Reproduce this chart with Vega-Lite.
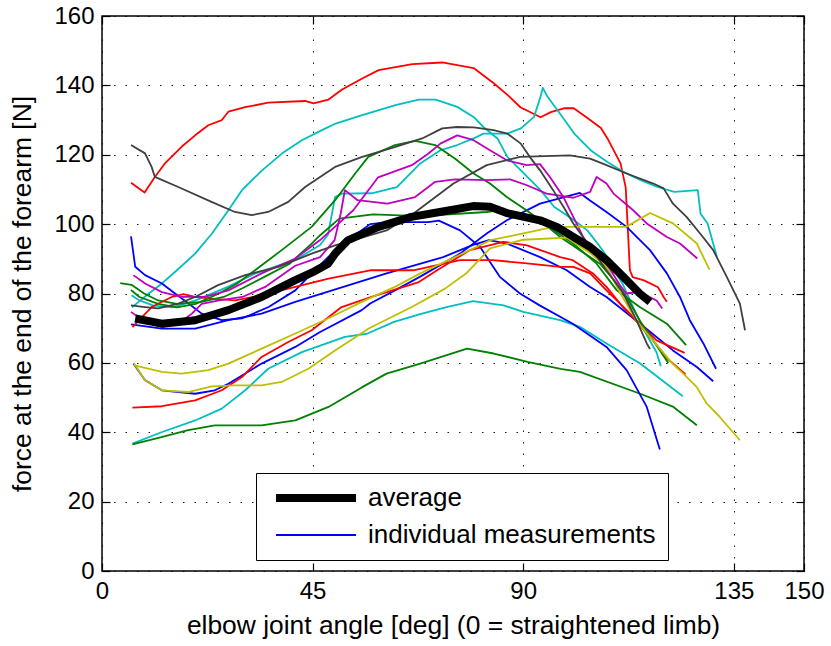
{
"$schema": "https://vega.github.io/schema/vega-lite/v6.json",
"width": 702, "height": 555,
"autosize": {"type": "none"},
"padding": {"left": 102, "top": 16, "right": 27, "bottom": 75},
"background": "#ffffff",
"config": {
  "font": "Liberation Sans",
  "view": {"stroke": "#000000", "strokeWidth": 1.5},
  "axis": {"labelFont": "Liberation Sans", "titleFont": "Liberation Sans", "labelColor": "#000000", "titleColor": "#000000", "titleFontWeight": "normal", "labelFontSize": 24, "titleFontSize": 26.4, "domain": false, "tickColor": "#000000", "tickWidth": 1.2, "tickSize": -8, "gridColor": "#000000", "gridDash": [1.5, 10], "gridWidth": 1, "gridOpacity": 0.9, "labelOverlap": false, "labelFlush": false},
  "legend": {"orient": "none", "legendX": 154, "legendY": 457, "padding": 12, "strokeColor": "#000000", "fillColor": "#ffffff", "labelFont": "Liberation Sans", "labelFontSize": 26, "labelColor": "#000000", "symbolType": "M-0.5,0H7.5", "symbolSize": 400, "labelOffset": 74, "rowPadding": 8, "labelLimit": 400}
},
"datasets": {
"ind": [
{"s":"r1","x":6.2,"y":111.9},{"s":"r1","x":9.1,"y":109.1},{"s":"r1","x":11.3,"y":113.6},{"s":"r1","x":13.5,"y":117.6},{"s":"r1","x":17,"y":122.3},{"s":"r1","x":19.9,"y":125.6},{"s":"r1","x":22.7,"y":128.5},{"s":"r1","x":25.6,"y":130},{"s":"r1","x":27,"y":132.4},{"s":"r1","x":30.6,"y":133.7},{"s":"r1","x":35.5,"y":135},{"s":"r1","x":43.4,"y":135.5},{"s":"r1","x":45.2,"y":134.8},{"s":"r1","x":48.4,"y":135.9},{"s":"r1","x":51.3,"y":138.8},{"s":"r1","x":55.6,"y":142},{"s":"r1","x":59.1,"y":144.4},{"s":"r1","x":66.3,"y":146.1},{"s":"r1","x":72.7,"y":146.6},{"s":"r1","x":79.4,"y":145},{"s":"r1","x":83.7,"y":140.6},{"s":"r1","x":86.7,"y":137.2},{"s":"r1","x":89.4,"y":133.7},{"s":"r1","x":93.7,"y":130.8},{"s":"r1","x":95.9,"y":132.3},{"s":"r1","x":98.7,"y":133.4},{"s":"r1","x":100.8,"y":133.4},{"s":"r1","x":103.8,"y":130.5},{"s":"r1","x":106.6,"y":127.7},{"s":"r1","x":108,"y":124.7},{"s":"r1","x":110.8,"y":117.5},{"s":"r1","x":111.9,"y":110.6},{"s":"r1","x":112.8,"y":86.7},{"s":"r1","x":113.4,"y":84.7},{"s":"r1","x":115.8,"y":83.8},{"s":"r1","x":118.8,"y":81.8},{"s":"r1","x":120,"y":79},{"s":"r1","x":120.7,"y":77.6},
{"s":"c1","x":6.4,"y":76},{"s":"c1","x":10,"y":80},{"s":"c1","x":12.8,"y":82.9},{"s":"c1","x":16,"y":86.7},{"s":"c1","x":19.9,"y":91.5},{"s":"c1","x":23.5,"y":97.3},{"s":"c1","x":27,"y":104},{"s":"c1","x":29.9,"y":109.8},{"s":"c1","x":34.2,"y":115.5},{"s":"c1","x":38.5,"y":120.4},{"s":"c1","x":42.7,"y":124.2},{"s":"c1","x":47,"y":127.1},{"s":"c1","x":49.9,"y":129},{"s":"c1","x":55.6,"y":131.4},{"s":"c1","x":62.7,"y":134.3},{"s":"c1","x":67.7,"y":135.9},{"s":"c1","x":71.3,"y":135.9},{"s":"c1","x":75.9,"y":133.8},{"s":"c1","x":79.4,"y":130.9},{"s":"c1","x":81.5,"y":128},{"s":"c1","x":84.5,"y":124.7},{"s":"c1","x":86.6,"y":119.4},{"s":"c1","x":89.5,"y":115.5},{"s":"c1","x":93.7,"y":109.8},{"s":"c1","x":96.6,"y":105},{"s":"c1","x":100.9,"y":101.1},{"s":"c1","x":103.7,"y":98.2},{"s":"c1","x":105.9,"y":94.4},{"s":"c1","x":108,"y":90.5},{"s":"c1","x":109.4,"y":86.7},{"s":"c1","x":111.2,"y":82.9},{"s":"c1","x":113.5,"y":76},{"s":"c1","x":116,"y":69},{"s":"c1","x":118.5,"y":63},{"s":"c1","x":119.4,"y":59},
{"s":"c2","x":6.3,"y":79.5},{"s":"c2","x":8,"y":78},{"s":"c2","x":11,"y":76.5},{"s":"c2","x":15,"y":76},{"s":"c2","x":20,"y":78},{"s":"c2","x":27,"y":82},{"s":"c2","x":32.8,"y":85.8},{"s":"c2","x":41.2,"y":89.6},{"s":"c2","x":46.6,"y":94},{"s":"c2","x":48.3,"y":97},{"s":"c2","x":49.8,"y":107.8},{"s":"c2","x":51.3,"y":108.8},{"s":"c2","x":57.6,"y":108.9},{"s":"c2","x":63,"y":110.7},{"s":"c2","x":68,"y":117.5},{"s":"c2","x":72.3,"y":121.3},{"s":"c2","x":75.9,"y":122.8},{"s":"c2","x":79.4,"y":124.7},{"s":"c2","x":81.5,"y":126.1},{"s":"c2","x":86.6,"y":126.1},{"s":"c2","x":89.5,"y":127.6},{"s":"c2","x":92.3,"y":130.9},{"s":"c2","x":93.7,"y":136.7},{"s":"c2","x":94.2,"y":139.3},{"s":"c2","x":95.2,"y":136.7},{"s":"c2","x":97.3,"y":132.9},{"s":"c2","x":100.9,"y":126.1},{"s":"c2","x":104.4,"y":121.3},{"s":"c2","x":108,"y":117.9},{"s":"c2","x":111.5,"y":115},{"s":"c2","x":115.1,"y":112.7},{"s":"c2","x":118.7,"y":110.7},{"s":"c2","x":122.3,"y":109.3},{"s":"c2","x":127.3,"y":109.8},{"s":"c2","x":127.9,"y":103},{"s":"c2","x":129.4,"y":100.2},{"s":"c2","x":131.4,"y":90.5},
{"s":"c3","x":6.5,"y":36.7},{"s":"c3","x":12.7,"y":40},{"s":"c3","x":19.9,"y":43.4},{"s":"c3","x":25.6,"y":46.8},{"s":"c3","x":30.6,"y":52.1},{"s":"c3","x":35.5,"y":58.3},{"s":"c3","x":42.7,"y":63.1},{"s":"c3","x":51.9,"y":67.5},{"s":"c3","x":56.6,"y":68.4},{"s":"c3","x":62.4,"y":71.8},{"s":"c3","x":67.8,"y":74},{"s":"c3","x":73.6,"y":76.1},{"s":"c3","x":79.3,"y":77.8},{"s":"c3","x":85.8,"y":76.6},{"s":"c3","x":90,"y":74.7},{"s":"c3","x":97.9,"y":72.3},{"s":"c3","x":102.1,"y":70.4},{"s":"c3","x":107.8,"y":65.6},{"s":"c3","x":115,"y":59.8},{"s":"c3","x":124.1,"y":50.4},
{"s":"g1","x":6.5,"y":36.5},{"s":"g1","x":12.7,"y":38.6},{"s":"g1","x":18.4,"y":40.6},{"s":"g1","x":24.1,"y":42},{"s":"g1","x":34.1,"y":42},{"s":"g1","x":41.3,"y":43.4},{"s":"g1","x":48.4,"y":47.3},{"s":"g1","x":55.6,"y":53},{"s":"g1","x":60.8,"y":56.9},{"s":"g1","x":68,"y":59.8},{"s":"g1","x":78,"y":64.1},{"s":"g1","x":83.7,"y":62.7},{"s":"g1","x":90.9,"y":60.3},{"s":"g1","x":98,"y":58.3},{"s":"g1","x":102.1,"y":57.4},{"s":"g1","x":115,"y":51.1},{"s":"g1","x":122.1,"y":47.3},{"s":"g1","x":127.1,"y":42},
{"s":"b1","x":6.2,"y":96.5},{"s":"b1","x":7.1,"y":87.7},{"s":"b1","x":9.2,"y":85.3},{"s":"b1","x":12.8,"y":82.9},{"s":"b1","x":15.6,"y":80},{"s":"b1","x":18.5,"y":77.1},{"s":"b1","x":21.3,"y":74.2},{"s":"b1","x":25.6,"y":72.3},{"s":"b1","x":29.9,"y":72.8},{"s":"b1","x":35.6,"y":76.1},{"s":"b1","x":41.3,"y":80.9},{"s":"b1","x":44.1,"y":84.8},{"s":"b1","x":48.3,"y":90.5},{"s":"b1","x":52.6,"y":95.4},{"s":"b1","x":57.3,"y":100},{"s":"b1","x":61.1,"y":100.6},{"s":"b1","x":69.7,"y":100.6},{"s":"b1","x":72,"y":101},{"s":"b1","x":76.5,"y":98.2},{"s":"b1","x":80.8,"y":93.4},{"s":"b1","x":85,"y":84.8},{"s":"b1","x":89.3,"y":80},{"s":"b1","x":93.6,"y":76.5},{"s":"b1","x":100.6,"y":71.3},{"s":"b1","x":107.8,"y":64.6},{"s":"b1","x":112.1,"y":57.9},{"s":"b1","x":116.4,"y":47.3},{"s":"b1","x":119.2,"y":35},
{"s":"b2","x":6.7,"y":59.8},{"s":"b2","x":9.2,"y":55},{"s":"b2","x":12.8,"y":52.1},{"s":"b2","x":19.9,"y":51.1},{"s":"b2","x":24.1,"y":52.1},{"s":"b2","x":27,"y":54},{"s":"b2","x":34.1,"y":59.8},{"s":"b2","x":41.3,"y":64.6},{"s":"b2","x":46.6,"y":68.9},{"s":"b2","x":55.5,"y":75.2},{"s":"b2","x":57.3,"y":77.1},{"s":"b2","x":62.6,"y":80.9},{"s":"b2","x":67.9,"y":84.8},{"s":"b2","x":76.5,"y":91.5},{"s":"b2","x":82.2,"y":97.3},{"s":"b2","x":86.5,"y":101.1},{"s":"b2","x":93.6,"y":105.9},{"s":"b2","x":102.1,"y":109},{"s":"b2","x":104.2,"y":106.9},{"s":"b2","x":107.8,"y":103.5},{"s":"b2","x":112.1,"y":99.2},{"s":"b2","x":117.1,"y":92.5},{"s":"b2","x":120.7,"y":85.8},{"s":"b2","x":123.5,"y":79},{"s":"b2","x":125.6,"y":72.3},{"s":"b2","x":128.5,"y":65.6},{"s":"b2","x":131.2,"y":58.3},
{"s":"b3","x":6.2,"y":71.1},{"s":"b3","x":12.8,"y":69.9},{"s":"b3","x":19.9,"y":69.9},{"s":"b3","x":27,"y":72.3},{"s":"b3","x":34.1,"y":74.2},{"s":"b3","x":41.3,"y":77.6},{"s":"b3","x":46.6,"y":79.8},{"s":"b3","x":60.8,"y":85.8},{"s":"b3","x":72.9,"y":90.5},{"s":"b3","x":79.3,"y":94},{"s":"b3","x":82.7,"y":95.4},{"s":"b3","x":86.5,"y":94.4},{"s":"b3","x":93.6,"y":90.5},{"s":"b3","x":99.3,"y":86.7},{"s":"b3","x":104.3,"y":81.9},{"s":"b3","x":107.8,"y":79},{"s":"b3","x":115,"y":71.3},{"s":"b3","x":122,"y":63.6},{"s":"b3","x":127.1,"y":58.8},{"s":"b3","x":130.6,"y":54.7},
{"s":"r2","x":6.5,"y":70.3},{"s":"r2","x":10.6,"y":76.1},{"s":"r2","x":14.9,"y":79},{"s":"r2","x":17.4,"y":79.8},{"s":"r2","x":19.9,"y":79},{"s":"r2","x":23.4,"y":78.5},{"s":"r2","x":28.4,"y":78},{"s":"r2","x":34.1,"y":79.5},{"s":"r2","x":41.3,"y":81.9},{"s":"r2","x":48.4,"y":84.3},{"s":"r2","x":57.3,"y":86.7},{"s":"r2","x":66.5,"y":86.7},{"s":"r2","x":76.5,"y":89.6},{"s":"r2","x":83.5,"y":89.6},{"s":"r2","x":90.8,"y":88.7},{"s":"r2","x":97.9,"y":87.7},{"s":"r2","x":100.7,"y":87.7},{"s":"r2","x":104.3,"y":85.8},{"s":"r2","x":107.8,"y":80.9},{"s":"r2","x":112.1,"y":75.2},{"s":"r2","x":117.1,"y":67.5},{"s":"r2","x":121,"y":61},{"s":"r2","x":124.7,"y":56.7},
{"s":"r3","x":6.5,"y":47.1},{"s":"r3","x":12.8,"y":47.5},{"s":"r3","x":19.9,"y":49.2},{"s":"r3","x":25.6,"y":52.1},{"s":"r3","x":29.9,"y":55.9},{"s":"r3","x":34.1,"y":61.7},{"s":"r3","x":39.8,"y":66},{"s":"r3","x":44.8,"y":69.4},{"s":"r3","x":51.2,"y":76.1},{"s":"r3","x":57.6,"y":79},{"s":"r3","x":67.7,"y":83.3},{"s":"r3","x":71.6,"y":86.7},{"s":"r3","x":78.6,"y":92.5},{"s":"r3","x":85.8,"y":94.9},{"s":"r3","x":90.8,"y":93.9},{"s":"r3","x":97.9,"y":90.5},{"s":"r3","x":100.6,"y":89.6},{"s":"r3","x":104.9,"y":85.8},{"s":"r3","x":107.8,"y":81.9},{"s":"r3","x":111.3,"y":76.1},{"s":"r3","x":114.9,"y":71.4},{"s":"r3","x":118.5,"y":66.5},{"s":"r3","x":124.5,"y":62.9},
{"s":"g2","x":6.2,"y":81},{"s":"g2","x":8,"y":79},{"s":"g2","x":12,"y":77},{"s":"g2","x":16,"y":76},{"s":"g2","x":20,"y":77},{"s":"g2","x":25,"y":80},{"s":"g2","x":29,"y":83},{"s":"g2","x":32.7,"y":86.7},{"s":"g2","x":38.4,"y":92.5},{"s":"g2","x":44.8,"y":99.2},{"s":"g2","x":49.8,"y":106.9},{"s":"g2","x":54.1,"y":114.6},{"s":"g2","x":56.9,"y":119.4},{"s":"g2","x":62.6,"y":122.8},{"s":"g2","x":66.9,"y":124},{"s":"g2","x":71.2,"y":122.8},{"s":"g2","x":75.4,"y":118.9},{"s":"g2","x":79.4,"y":114.6},{"s":"g2","x":82.9,"y":111.7},{"s":"g2","x":86.5,"y":107.8},{"s":"g2","x":90.7,"y":104},{"s":"g2","x":93.6,"y":101.1},{"s":"g2","x":97.9,"y":96.3},{"s":"g2","x":102.1,"y":92.5},{"s":"g2","x":106.4,"y":88.6},{"s":"g2","x":110,"y":82.9},{"s":"g2","x":112.1,"y":79},{"s":"g2","x":115,"y":72},{"s":"g2","x":118,"y":66},{"s":"g2","x":121,"y":60},
{"s":"g3","x":3.9,"y":83},{"s":"g3","x":6.3,"y":82.5},{"s":"g3","x":9,"y":80},{"s":"g3","x":12,"y":78},{"s":"g3","x":16,"y":77},{"s":"g3","x":21,"y":77.5},{"s":"g3","x":26,"y":79},{"s":"g3","x":30,"y":81.5},{"s":"g3","x":35,"y":85},{"s":"g3","x":40,"y":88.5},{"s":"g3","x":44.8,"y":94.4},{"s":"g3","x":46.6,"y":96.8},{"s":"g3","x":50.7,"y":101.6},{"s":"g3","x":57.9,"y":102.8},{"s":"g3","x":68.1,"y":102.3},{"s":"g3","x":82.2,"y":103.5},{"s":"g3","x":83.9,"y":103.8},{"s":"g3","x":95,"y":99.7},{"s":"g3","x":100.6,"y":94.5},{"s":"g3","x":105.7,"y":88.6},{"s":"g3","x":110,"y":80.9},{"s":"g3","x":114.9,"y":76.1},{"s":"g3","x":120.7,"y":71.3},{"s":"g3","x":124.8,"y":65.1},
{"s":"m1","x":6.7,"y":85.3},{"s":"m1","x":9.2,"y":82.9},{"s":"m1","x":12.8,"y":80.4},{"s":"m1","x":17,"y":79},{"s":"m1","x":22,"y":79},{"s":"m1","x":27,"y":80.9},{"s":"m1","x":34.1,"y":85.8},{"s":"m1","x":41.3,"y":90.1},{"s":"m1","x":46.6,"y":95.4},{"s":"m1","x":53.7,"y":104},{"s":"m1","x":59,"y":113.5},{"s":"m1","x":66.2,"y":117},{"s":"m1","x":69.7,"y":120.3},{"s":"m1","x":72.3,"y":123.2},{"s":"m1","x":75.9,"y":125.6},{"s":"m1","x":79.4,"y":124.2},{"s":"m1","x":82.9,"y":121.3},{"s":"m1","x":86.5,"y":118.4},{"s":"m1","x":90.7,"y":117},{"s":"m1","x":93.6,"y":117.3},{"s":"m1","x":95.7,"y":113.6},{"s":"m1","x":98.6,"y":107.8},{"s":"m1","x":100.7,"y":102.1},{"s":"m1","x":102.8,"y":96.3},{"s":"m1","x":105.7,"y":90.5},{"s":"m1","x":107.8,"y":88.6},{"s":"m1","x":110.7,"y":82.4},{"s":"m1","x":112,"y":80},{"s":"m1","x":115,"y":80.5},{"s":"m1","x":117,"y":79},{"s":"m1","x":118.5,"y":78},{"s":"m1","x":119.7,"y":75.7},
{"s":"m2","x":6.2,"y":74.7},{"s":"m2","x":9.2,"y":71.8},{"s":"m2","x":12.8,"y":70.3},{"s":"m2","x":16.3,"y":71.3},{"s":"m2","x":19.2,"y":74.2},{"s":"m2","x":21.3,"y":77},{"s":"m2","x":25,"y":78},{"s":"m2","x":30,"y":79},{"s":"m2","x":35,"y":82},{"s":"m2","x":41.3,"y":88},{"s":"m2","x":46.6,"y":90.5},{"s":"m2","x":49.7,"y":95.4},{"s":"m2","x":51,"y":103},{"s":"m2","x":51.9,"y":109.8},{"s":"m2","x":54.6,"y":106.9},{"s":"m2","x":61,"y":105.9},{"s":"m2","x":66.9,"y":107.8},{"s":"m2","x":71.2,"y":112.2},{"s":"m2","x":75.4,"y":112.9},{"s":"m2","x":82.2,"y":112.7},{"s":"m2","x":87.2,"y":112.9},{"s":"m2","x":90.8,"y":111.2},{"s":"m2","x":95,"y":108.8},{"s":"m2","x":100.7,"y":107.6},{"s":"m2","x":104.3,"y":109.3},{"s":"m2","x":105.7,"y":113.6},{"s":"m2","x":107.8,"y":111.7},{"s":"m2","x":109.3,"y":108.8},{"s":"m2","x":113.5,"y":104},{"s":"m2","x":116.4,"y":100.2},{"s":"m2","x":120.7,"y":96.3},{"s":"m2","x":123.5,"y":94.4},{"s":"m2","x":127.2,"y":90.1},
{"s":"y1","x":6.9,"y":59.3},{"s":"y1","x":12.8,"y":57.4},{"s":"y1","x":17,"y":56.9},{"s":"y1","x":22.7,"y":57.9},{"s":"y1","x":27,"y":59.8},{"s":"y1","x":34.1,"y":64.1},{"s":"y1","x":41.2,"y":68.4},{"s":"y1","x":48.3,"y":72.8},{"s":"y1","x":55.5,"y":77.6},{"s":"y1","x":62.6,"y":81.9},{"s":"y1","x":68,"y":85.8},{"s":"y1","x":78.6,"y":92.5},{"s":"y1","x":83,"y":95.4},{"s":"y1","x":90,"y":97.3},{"s":"y1","x":96.5,"y":99.2},{"s":"y1","x":112,"y":99.2},{"s":"y1","x":117.1,"y":103.2},{"s":"y1","x":122,"y":100.2},{"s":"y1","x":127.1,"y":94.4},{"s":"y1","x":129.8,"y":86.9},
{"s":"y2","x":6.8,"y":59.9},{"s":"y2","x":9.2,"y":55},{"s":"y2","x":12.8,"y":52.1},{"s":"y2","x":18.4,"y":51.6},{"s":"y2","x":23.4,"y":53.2},{"s":"y2","x":28.4,"y":53.5},{"s":"y2","x":34.1,"y":53.5},{"s":"y2","x":38.4,"y":54.5},{"s":"y2","x":44.1,"y":58.3},{"s":"y2","x":49.8,"y":63.6},{"s":"y2","x":57,"y":69.9},{"s":"y2","x":66.2,"y":76.1},{"s":"y2","x":73.3,"y":81.4},{"s":"y2","x":78,"y":86},{"s":"y2","x":82.9,"y":93},{"s":"y2","x":90,"y":95.5},{"s":"y2","x":99.3,"y":96.1},{"s":"y2","x":104,"y":92},{"s":"y2","x":107.8,"y":87.7},{"s":"y2","x":110.8,"y":80},{"s":"y2","x":114.3,"y":72},{"s":"y2","x":117.7,"y":66.5},{"s":"y2","x":121.9,"y":59.8},{"s":"y2","x":124.2,"y":56.9},{"s":"y2","x":127.1,"y":53},{"s":"y2","x":129.2,"y":48.3},{"s":"y2","x":132,"y":44.4},{"s":"y2","x":136.3,"y":37.7},
{"s":"k1","x":6.2,"y":122.8},{"s":"k1","x":9.2,"y":120.4},{"s":"k1","x":10.6,"y":116.5},{"s":"k1","x":11.3,"y":113.6},{"s":"k1","x":16.3,"y":110.7},{"s":"k1","x":23.4,"y":106.4},{"s":"k1","x":28.4,"y":103.5},{"s":"k1","x":32,"y":102.6},{"s":"k1","x":35.5,"y":103.5},{"s":"k1","x":39.8,"y":106.4},{"s":"k1","x":43.4,"y":110.7},{"s":"k1","x":49.8,"y":116.5},{"s":"k1","x":55.6,"y":119.4},{"s":"k1","x":62.7,"y":122.3},{"s":"k1","x":68.4,"y":124.7},{"s":"k1","x":72.7,"y":127.6},{"s":"k1","x":75.9,"y":128},{"s":"k1","x":79.4,"y":127.9},{"s":"k1","x":83.7,"y":127.1},{"s":"k1","x":86.6,"y":126.1},{"s":"k1","x":89.5,"y":123.2},{"s":"k1","x":91.4,"y":119.4},{"s":"k1","x":93.6,"y":115.5},{"s":"k1","x":96.4,"y":109.8},{"s":"k1","x":98.6,"y":105},{"s":"k1","x":100.7,"y":100.2},{"s":"k1","x":104.3,"y":93.4},{"s":"k1","x":107.8,"y":86.7},{"s":"k1","x":111.4,"y":80},{"s":"k1","x":114.2,"y":72.3},{"s":"k1","x":116.4,"y":65.6},{"s":"k1","x":117.1,"y":64},
{"s":"k2","x":6.2,"y":76.6},{"s":"k2","x":9.2,"y":76.1},{"s":"k2","x":12,"y":75.7},{"s":"k2","x":16.3,"y":77.1},{"s":"k2","x":19.9,"y":79},{"s":"k2","x":24.8,"y":82.4},{"s":"k2","x":30.6,"y":85.3},{"s":"k2","x":37.7,"y":87.7},{"s":"k2","x":44.8,"y":91.5},{"s":"k2","x":49.8,"y":93.9},{"s":"k2","x":53.7,"y":95.4},{"s":"k2","x":60.8,"y":98.2},{"s":"k2","x":66.5,"y":103},{"s":"k2","x":75.1,"y":111.7},{"s":"k2","x":82.2,"y":117},{"s":"k2","x":89.3,"y":119.4},{"s":"k2","x":100,"y":119.8},{"s":"k2","x":104.3,"y":118.9},{"s":"k2","x":107.8,"y":117},{"s":"k2","x":112.1,"y":114.6},{"s":"k2","x":117.8,"y":111.7},{"s":"k2","x":120,"y":110.3},{"s":"k2","x":122,"y":105.9},{"s":"k2","x":124.9,"y":102.1},{"s":"k2","x":127.8,"y":97.3},{"s":"k2","x":130.6,"y":92.5},{"s":"k2","x":133.5,"y":84.8},{"s":"k2","x":136.3,"y":77.1},{"s":"k2","x":137.4,"y":69.4}
],
"avg": [
{"kind":"average","x":7.1,"y":72.8},{"kind":"average","x":12.8,"y":71.3},{"kind":"average","x":19.9,"y":72.3},{"kind":"average","x":27,"y":75.2},{"kind":"average","x":34.1,"y":79},{"kind":"average","x":41.2,"y":83.8},{"kind":"average","x":45.4,"y":86.4},{"kind":"average","x":48.3,"y":88.6},{"kind":"average","x":49.8,"y":91.5},{"kind":"average","x":52.6,"y":95.4},{"kind":"average","x":59.1,"y":99.2},{"kind":"average","x":66.1,"y":102.1},{"kind":"average","x":72.2,"y":103.5},{"kind":"average","x":79.3,"y":105.2},{"kind":"average","x":82.9,"y":105},{"kind":"average","x":86.5,"y":103.2},{"kind":"average","x":93.6,"y":101.1},{"kind":"average","x":97.2,"y":99.2},{"kind":"average","x":100.7,"y":96.3},{"kind":"average","x":104.3,"y":93.4},{"kind":"average","x":107.8,"y":89.6},{"kind":"average","x":111.4,"y":84.8},{"kind":"average","x":114.9,"y":80},{"kind":"average","x":117.1,"y":77.6}
]
},
"layer": [
{
 "data": {"name": "ind"},
 "mark": {"type": "line", "strokeJoin": "round", "strokeCap": "butt", "strokeWidth": 1.8},
 "encoding": {
  "x": {"field": "x", "type": "quantitative", "scale": {"domain": [0, 150], "nice": false, "zero": false},
        "axis": {"orient": "bottom", "values": [0, 45, 90, 135, 150], "grid": true, "labelPadding": 16, "title": "elbow joint angle [deg] (0 = straightened limb)", "titlePadding": 9}},
  "y": {"field": "y", "type": "quantitative", "scale": {"domain": [0, 160], "nice": false, "zero": false},
        "axis": {"orient": "left", "values": [0, 20, 40, 60, 80, 100, 120, 140, 160], "grid": true, "labelPadding": 16, "title": "force at the end of the forearm [N]", "titlePadding": 17}},
  "detail": {"field": "s", "type": "nominal"},
  "stroke": {"field": "s", "type": "nominal", "legend": null,
    "scale": {"domain": ["r1","c1","c2","c3","g1","b1","b2","b3","r2","r3","g2","g3","m1","m2","y1","y2","k1","k2"],
              "range": ["#FF0000","#00BFBF","#00BFBF","#00BFBF","#008000","#0000FF","#0000FF","#0000FF","#FF0000","#FF0000","#008000","#008000","#BF00BF","#BF00BF","#BFBF00","#BFBF00","#404040","#404040"]}}
 }
},
{
 "data": {"name": "avg"},
 "mark": {"type": "line", "strokeJoin": "round", "strokeCap": "butt", "strokeWidth": 8},
 "encoding": {
  "x": {"field": "x", "type": "quantitative", "axis": {"orient": "top", "values": [0, 45, 90, 135, 150], "grid": false, "labels": false, "title": null}},
  "y": {"field": "y", "type": "quantitative", "axis": {"orient": "right", "values": [0, 20, 40, 60, 80, 100, 120, 140, 160], "grid": false, "labels": false, "title": null}},
  "color": {"field": "kind", "type": "nominal",
    "scale": {"domain": ["average", "individual measurements"], "range": ["#000000", "#0000FF"]},
    "legend": {"title": null, "encode": {"symbols": {"update": {"strokeWidth": {"signal": "datum.value === 'average' ? 8 : 1.8"}}}}}}
 }
}
],
"resolve": {"axis": {"x": "independent", "y": "independent"}}
}
